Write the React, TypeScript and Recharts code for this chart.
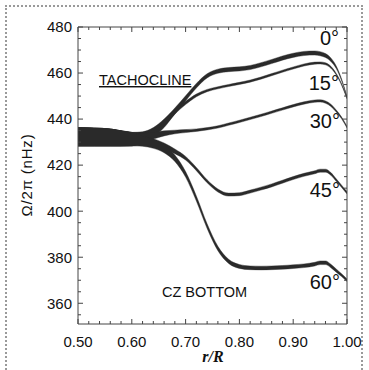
import React from 'react';
import { ComposedChart, Area, XAxis, YAxis } from 'recharts';

const RADIUS = [0.5, 0.53, 0.56, 0.58, 0.6, 0.62, 0.64, 0.66, 0.68, 0.7, 0.72, 0.74, 0.76, 0.78, 0.8, 0.82, 0.84, 0.86, 0.88, 0.9, 0.92, 0.94, 0.95, 0.96, 0.97, 0.98, 0.99, 1.0];

const OMEGA_0 = [432.3, 432.2, 432.0, 431.6, 431.3, 432.3, 434.5, 438.5, 443.5, 449, 454.5, 458.8, 460.8, 461.5, 461.8, 462.4, 463.6, 465, 466.5, 467.7, 468.5, 468.7, 468.4, 467.6, 465.8, 462.5, 457, 449.5];
const HALF_0 = [4.0, 3.9, 3.7, 3.3, 2.9, 2.2, 1.8, 1.5, 1.3, 1.1, 1.0, 0.9, 0.9, 0.9, 0.9, 0.9, 0.9, 0.9, 0.9, 0.9, 0.9, 0.9, 0.9, 0.85, 0.75, 0.55, 0.4, 0.3];

const OMEGA_15 = [432.3, 432.2, 432.0, 431.6, 431.3, 432.2, 434, 437.5, 443, 447, 450.3, 452.4, 453.6, 454.6, 455.5, 456.5, 457.8, 459.3, 460.8, 462.2, 463.5, 464.3, 464.4, 464, 462.5, 459.5, 455, 449];
const HALF_15 = [4.0, 3.9, 3.7, 3.3, 2.9, 2.0, 1.6, 1.2, 0.9, 0.7, 0.6, 0.5, 0.45, 0.45, 0.45, 0.45, 0.45, 0.45, 0.45, 0.45, 0.45, 0.45, 0.45, 0.45, 0.4, 0.35, 0.3, 0.3];

const OMEGA_30 = [432.3, 432.2, 432.0, 431.6, 431.3, 431.8, 432.8, 433.8, 434.4, 434.8, 435.2, 435.8, 436.6, 437.8, 439, 440.3, 441.6, 443, 444.4, 445.8, 447, 447.8, 447.9, 447.4, 446, 443.5, 440.5, 436.5];
const HALF_30 = [4.0, 3.9, 3.7, 3.3, 2.9, 2.0, 1.5, 1.1, 0.8, 0.65, 0.55, 0.5, 0.5, 0.5, 0.5, 0.5, 0.5, 0.5, 0.5, 0.5, 0.5, 0.5, 0.5, 0.5, 0.5, 0.45, 0.4, 0.4];

const OMEGA_45 = [432.3, 432.2, 432.0, 431.6, 431.3, 430.6, 429.8, 428.3, 426, 423, 418.3, 413, 409, 407.2, 407.4, 408.5, 409.8, 411.2, 412.8, 414.4, 415.8, 416.9, 417.6, 417.6, 416.2, 413.5, 410.8, 408];
const HALF_45 = [4.0, 3.9, 3.7, 3.3, 2.9, 2.1, 1.7, 1.3, 1.0, 0.8, 0.7, 0.65, 0.65, 0.65, 0.65, 0.65, 0.65, 0.65, 0.65, 0.65, 0.65, 0.65, 0.65, 0.65, 0.6, 0.55, 0.5, 0.5];

const OMEGA_60 = [432.3, 432.2, 432.0, 431.6, 431.3, 430.4, 429.2, 427, 423, 416, 405.5, 393.5, 383.8, 378.2, 376, 375.4, 375.3, 375.4, 375.6, 375.9, 376.3, 377, 377.6, 377.6, 376.2, 374.2, 372.2, 370];
const HALF_60 = [4.0, 3.9, 3.7, 3.3, 2.9, 2.2, 1.9, 1.6, 1.4, 1.2, 1.1, 1.0, 0.95, 0.9, 0.85, 0.8, 0.8, 0.8, 0.8, 0.8, 0.8, 0.8, 0.8, 0.8, 0.75, 0.7, 0.6, 0.55];

const LATITUDES = ['0°', '15°', '30°', '45°', '60°'];
const X_TICKS = [0.5, 0.6, 0.7, 0.8, 0.9, 1.0];
const X_MINOR_TICKS = [0.52, 0.54, 0.56, 0.58, 0.62, 0.64, 0.66, 0.68, 0.72, 0.74, 0.76, 0.78, 0.82, 0.84, 0.86, 0.88, 0.92, 0.94, 0.96, 0.98];
const Y_TICKS = [360, 380, 400, 420, 440, 460, 480];
const Y_MINOR_TICKS = [355, 365, 370, 375, 385, 390, 395, 405, 410, 415, 425, 430, 435, 445, 450, 455, 465, 470, 475];

const SERIES = [
  { key: 'b0', omega: OMEGA_0, half: HALF_0 },
  { key: 'b15', omega: OMEGA_15, half: HALF_15 },
  { key: 'b30', omega: OMEGA_30, half: HALF_30 },
  { key: 'b45', omega: OMEGA_45, half: HALF_45 },
  { key: 'b60', omega: OMEGA_60, half: HALF_60 },
];

const data = RADIUS.map((r, i) => {
  const row: Record<string, any> = { r };
  SERIES.forEach((s) => {
    row[s.key] = [s.omega[i] - s.half[i], s.omega[i] + s.half[i]];
  });
  return row;
});

const X_ALL = [...X_TICKS, ...X_MINOR_TICKS].sort((a, b) => a - b);
const Y_ALL = [...Y_TICKS, ...Y_MINOR_TICKS].sort((a, b) => a - b);

const X_DOMAIN: [number, number] = [0.5, 1.0];
const Y_DOMAIN: [number, number] = [351, 480];
const FONT = "'Liberation Sans', Arial, Helvetica, sans-serif";
const FRAME = '#444';
const MAJOR_LEN = 5;
const MINOR_LEN = 3;

type Side = 'top' | 'bottom' | 'left' | 'right';

const makeTick = (side: Side, majors: number[], label: ((v: number) => string) | null) => (props: any) => {
  const { x, y, payload } = props;
  const v = payload.value as number;
  const major = majors.indexOf(v) >= 0;
  const len = major ? MAJOR_LEN : MINOR_LEN;
  let x2 = x;
  let y2 = y;
  if (side === 'bottom') y2 = y - len;
  if (side === 'top') y2 = y + len;
  if (side === 'left') x2 = x + len;
  if (side === 'right') x2 = x - len;
  return (
    <g>
      <line x1={x} y1={y} x2={x2} y2={y2} stroke={FRAME} strokeWidth={1} />
      {label && major && side === 'bottom' && (
        <text x={x} y={y + 12} dy="0.71em" textAnchor="middle" fontSize={15} fill="#111" fontFamily={FONT}>
          {label(v)}
        </text>
      )}
      {label && major && side === 'left' && (
        <text x={x - 6} y={y} dy="0.355em" textAnchor="end" fontSize={15} fill="#111" fontFamily={FONT}>
          {label(v)}
        </text>
      )}
    </g>
  );
};

const axisLine = { stroke: FRAME, strokeWidth: 1 };

export default function App() {
  return (
    <div style={{ position: 'absolute', left: 0, top: 0, width: 369, height: 370, overflow: 'hidden', background: '#fff' }}>
      <div
        style={{
          position: 'absolute',
          left: 5,
          top: 5,
          width: 354,
          height: 420,
          border: '2px dotted #9a9a9a',
        }}
      />
      <ComposedChart
        width={369}
        height={370}
        data={data}
        margin={{ top: 27, right: 22, bottom: 0, left: 0 }}
        style={{ position: 'absolute', left: 0, top: 0 }}
      >
        <XAxis
          xAxisId="main"
          type="number"
          dataKey="r"
          domain={X_DOMAIN}
          allowDataOverflow
          ticks={X_ALL}
          interval={0}
          height={46}
          tickSize={0}
          tickMargin={0}
          tickLine={false}
          axisLine={axisLine}
          tick={makeTick('bottom', X_TICKS, (v) => v.toFixed(2))}
        />
        <XAxis
          xAxisId="top"
          type="number"
          dataKey="r"
          orientation="top"
          mirror
          domain={X_DOMAIN}
          allowDataOverflow
          ticks={X_ALL}
          interval={0}
          tickSize={0}
          tickMargin={0}
          tickLine={false}
          axisLine={axisLine}
          tick={makeTick('top', X_TICKS, null)}
        />
        <YAxis
          yAxisId="main"
          type="number"
          domain={Y_DOMAIN}
          allowDataOverflow
          ticks={Y_ALL}
          interval={0}
          width={78}
          tickSize={0}
          tickMargin={0}
          tickLine={false}
          axisLine={axisLine}
          tick={makeTick('left', Y_TICKS, (v) => String(v))}
        />
        <YAxis
          yAxisId="right"
          type="number"
          orientation="right"
          mirror
          domain={Y_DOMAIN}
          allowDataOverflow
          ticks={Y_ALL}
          interval={0}
          tickSize={0}
          tickMargin={0}
          tickLine={false}
          axisLine={axisLine}
          tick={makeTick('right', Y_TICKS, null)}
        />
        {SERIES.map((s) => (
          <Area
            key={s.key}
            xAxisId="main"
            yAxisId="main"
            dataKey={s.key}
            type="monotone"
            stroke="#2a2a2a"
            strokeWidth={0.4}
            fill="#2a2a2a"
            fillOpacity={1}
            dot={false}
            activeDot={false}
            isAnimationActive={false}
          />
        ))}
      </ComposedChart>
      <svg width={369} height={370} style={{ position: 'absolute', left: 0, top: 0, pointerEvents: 'none' }}>
        <g fontFamily={FONT} fill="#111">
          <text x={99} y={85} fontSize={14.5} textDecoration="underline">TACHOCLINE</text>
          <text x={162} y={297} fontSize={14.5}>CZ BOTTOM</text>
          <text x={339} y={45} fontSize={20} textAnchor="end">{LATITUDES[0]}</text>
          <text x={339} y={90} fontSize={20} textAnchor="end">{LATITUDES[1]}</text>
          <text x={340} y={128} fontSize={20} textAnchor="end">{LATITUDES[2]}</text>
          <text x={340} y={197} fontSize={20} textAnchor="end">{LATITUDES[3]}</text>
          <text x={340} y={289} fontSize={20} textAnchor="end">{LATITUDES[4]}</text>
          <text x={32} y={175} fontSize={15} letterSpacing={0.8} textAnchor="middle" transform="rotate(-90 32 175)">Ω/2π (nHz)</text>
        </g>
        <text x={213} y={362} fontSize={16} fontStyle="italic" fontWeight="bold" textAnchor="middle" fontFamily="'Liberation Serif', 'Times New Roman', serif" fill="#111">r/R</text>
      </svg>
    </div>
  );
}
